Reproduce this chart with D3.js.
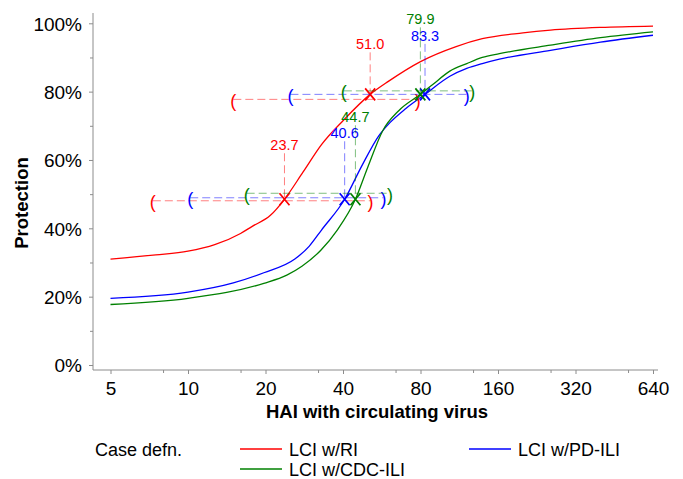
<!DOCTYPE html>
<html>
<head>
<meta charset="utf-8">
<script src="https://cdn.jsdelivr.net/npm/d3@7"></script>
<style>
  body { margin: 0; background: #fff; }
  svg text { font-family: Arial, "Liberation Sans", sans-serif; }
</style>
</head>
<body>
<div id="chart"></div>
<script>
// ---- data ----
const haiTicks = [5, 10, 20, 40, 80, 160, 320, 640];
const haiMinorTicks = [8, 16, 32, 64, 128, 256, 512];
const protTicks = [0, 20, 40, 60, 80, 100];
const protMinorTicks = [10, 30, 50, 70, 90];

const seriesNames = ["LCI w/RI", "LCI w/PD-ILI", "LCI w/CDC-ILI"];

// protection curves (HAI titre, % protection)
const riHai   = [5, 7.5, 10, 12.7, 16, 17.7, 20.9, 23.7, 28, 33, 40, 51, 60, 80, 110, 139, 200, 256, 400, 640];
const riProt  = [31.0, 32.2, 33.3, 35.2, 38.5, 40.5, 43.8, 48.5, 56.5, 64.5, 71.5, 79.2, 83.0, 88.8, 93.2, 95.5, 97.2, 98.0, 98.8, 99.2];
const pdHai   = [5, 10, 15, 19.7, 26, 29.6, 33, 40.6, 47.5, 55, 61, 70, 83.3, 104, 121, 139, 162, 256, 400, 640];
const pdProt  = [19.5, 21.3, 24.0, 27.0, 31.0, 34.8, 39.5, 48.5, 58.5, 67.0, 71.0, 75.0, 79.2, 84.5, 86.8, 88.2, 89.5, 92.1, 94.5, 96.5];
const cdcHai  = [5, 10, 19.7, 24.2, 27.7, 32.8, 38, 44.7, 50, 57, 66, 79.9, 89, 104, 121, 139, 162, 256, 400, 640];
const cdcProt = [17.7, 19.5, 23.9, 26.3, 28.9, 33.6, 39.5, 48.5, 58.0, 68.5, 74.5, 79.2, 82.0, 86.0, 88.2, 90.0, 91.1, 93.6, 95.8, 97.5];

// titre estimates at two protection levels, with confidence bounds
const levelProt = [48.5, 79.2];
const riEst   = [23.7, 51.0];
const riLow   = [7.3, 15.0];
const riHigh  = [51.2, 78.0];
const pdEst   = [40.6, 83.3];
const pdLow   = [10.2, 25.0];
const pdHigh  = [57.4, 121];
const cdcEst  = [44.7, 79.9];
const cdcLow  = [16.9, 40.3];
const cdcHigh = [60.9, 127];

// ---- styles ----
const colors = ["#ff0000", "#0000ff", "#008000"];
const ciShift = [[1.5, 5], [-1.5, 0], [-6, -3.5]];      // px, per series per level
const labelLift = [[54, 50], [66, 58.5], [82, 75]];      // px above marker

const width = 683, height = 479;

const svg = d3.select("#chart").append("svg")
  .attr("width", width)
  .attr("height", height);

const x = d3.scaleLog().base(2).domain([5, 640]).range([110.5, 653]);
const y = d3.scaleLinear().domain([0, 100]).range([365, 23.3]);

// ---- axes ----
const axisColor = "#8c8c8c";

svg.append("line")
  .attr("x1", 93).attr("x2", 93).attr("y1", 13).attr("y2", 370)
  .attr("stroke", axisColor);
svg.append("line")
  .attr("x1", 93).attr("x2", 658).attr("y1", 370).attr("y2", 370)
  .attr("stroke", axisColor);

const yAxis = svg.append("g")
  .attr("transform", "translate(93,0)")
  .call(d3.axisLeft(y).tickValues(protTicks).tickSize(4).tickPadding(7).tickFormat(d => d + "%"));
svg.append("g")
  .attr("transform", "translate(93,0)")
  .call(d3.axisLeft(y).tickValues(protMinorTicks).tickSize(3).tickFormat(""));

const xAxis = svg.append("g")
  .attr("transform", "translate(0,370)")
  .call(d3.axisBottom(x).tickValues(haiTicks).tickSize(4).tickPadding(8).tickFormat(d3.format("d")));
svg.append("g")
  .attr("transform", "translate(0,370)")
  .call(d3.axisBottom(x).tickValues(haiMinorTicks).tickSize(3).tickFormat(""));

svg.selectAll(".domain").remove();
svg.selectAll(".tick line").attr("stroke", axisColor);
svg.selectAll(".tick text").attr("fill", "#000").style("font-size", "19px");
yAxis.selectAll(".tick text").attr("dy", "0.36em");

svg.append("text")
  .attr("transform", "translate(28,203) rotate(-90)")
  .attr("text-anchor", "middle")
  .style("font-size", "18.5px")
  .style("font-weight", "bold")
  .text("Protection");

svg.append("text")
  .attr("x", 377).attr("y", 418)
  .attr("text-anchor", "middle")
  .style("font-size", "18.5px")
  .style("font-weight", "bold")
  .text("HAI with circulating virus");

// ---- curves ----
const curves = [
  riHai.map((h, i) => [h, riProt[i]]),
  pdHai.map((h, i) => [h, pdProt[i]]),
  cdcHai.map((h, i) => [h, cdcProt[i]])
];

const line = d3.line()
  .x(d => x(d[0]))
  .y(d => y(d[1]))
  .curve(d3.curveMonotoneX);

svg.selectAll(".curve")
  .data(curves)
  .join("path")
  .attr("class", "curve")
  .attr("d", line)
  .attr("fill", "none")
  .attr("stroke", (d, i) => colors[i])
  .attr("stroke-width", 1.3);

// ---- estimate markers with CI ----
const ests = [riEst, pdEst, cdcEst];
const lows = [riLow, pdLow, cdcLow];
const highs = [riHigh, pdHigh, cdcHigh];

const marks = [];
ests.forEach((e, s) => {
  levelProt.forEach((p, k) => {
    marks.push({ s, k, p, est: e[k], lo: lows[s][k], hi: highs[s][k] });
  });
});

const mg = svg.append("g");

marks.forEach(m => {
  const c = colors[m.s];
  const cy = y(m.p);
  const ly = cy + ciShift[m.s][m.k];
  const cx = x(m.est);
  const labelY = cy - labelLift[m.s][m.k];

  // horizontal CI line
  mg.append("line")
    .attr("x1", x(m.lo)).attr("x2", x(m.hi))
    .attr("y1", ly).attr("y2", ly)
    .attr("stroke", c).attr("stroke-opacity", 0.5)
    .attr("stroke-dasharray", "8,4");

  // vertical drop from label
  mg.append("line")
    .attr("x1", cx).attr("x2", cx)
    .attr("y1", labelY + 8).attr("y2", cy)
    .attr("stroke", c).attr("stroke-opacity", 0.5)
    .attr("stroke-dasharray", "8,4");

  // brackets
  mg.append("text")
    .attr("x", x(m.lo)).attr("y", ly + 1)
    .attr("text-anchor", "middle").attr("dy", "0.35em")
    .attr("fill", c).style("font-size", "18px")
    .text("(");
  mg.append("text")
    .attr("x", x(m.hi)).attr("y", ly + 1)
    .attr("text-anchor", "middle").attr("dy", "0.35em")
    .attr("fill", c).style("font-size", "18px")
    .text(")");

  // X marker
  mg.append("path")
    .attr("d", `M${cx - 5},${cy - 6}L${cx + 5},${cy + 6}M${cx - 5},${cy + 6}L${cx + 5},${cy - 6}`)
    .attr("stroke", c).attr("stroke-width", 1.7).attr("fill", "none");

  // value label
  mg.append("text")
    .attr("x", cx).attr("y", labelY)
    .attr("text-anchor", "middle").attr("dy", "0.35em")
    .attr("fill", c).style("font-size", "14.5px")
    .text(m.est.toFixed(1));
});

// ---- legend ----
const legend = svg.append("g").style("font-size", "18px");
legend.append("text").attr("x", 95).attr("y", 450).attr("dy", "0.35em").text("Case defn.");

const legendPos = [[240, 449], [469, 449], [240, 469]];
seriesNames.forEach((n, i) => {
  const [lx, ly] = legendPos[i];
  legend.append("line")
    .attr("x1", lx).attr("x2", lx + 42).attr("y1", ly).attr("y2", ly)
    .attr("stroke", colors[i]).attr("stroke-width", 1.5);
  legend.append("text")
    .attr("x", lx + 49).attr("y", ly + 1).attr("dy", "0.35em")
    .text(n);
});
</script>
</body>
</html>
